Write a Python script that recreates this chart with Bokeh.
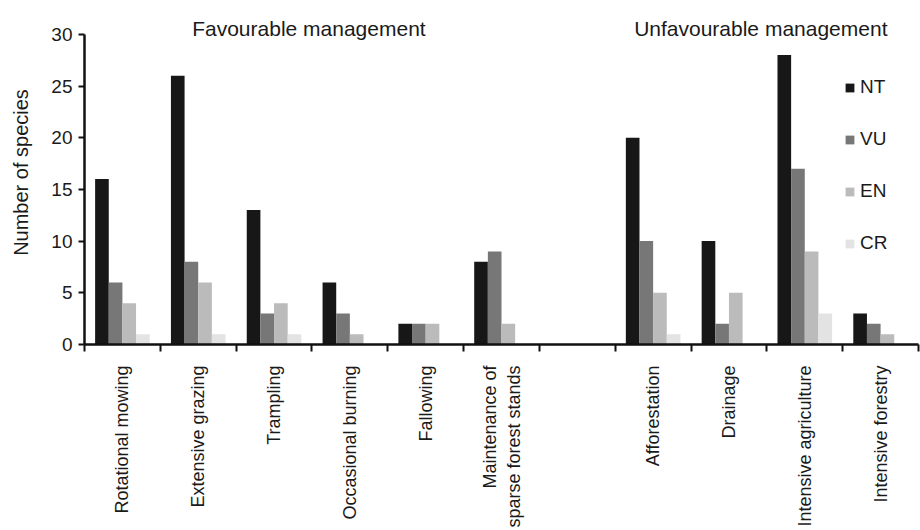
import math
from bokeh.plotting import figure
from bokeh.models import (ColumnDataSource, Range1d, FixedTicker, Label, Legend, LegendItem)
from bokeh.transform import dodge
from bokeh.embed import file_html
from bokeh.resources import INLINE

# ---- data ----
categories = ["Rotational mowing", "Extensive grazing", "Trampling", "Occasional burning",
              "Fallowing", "Maintenance of\nsparse forest stands", "",
              "Afforestation", "Drainage", "Intensive agriculture", "Intensive forestry"]
NT = [16, 26, 13, 6, 2, 8, 0, 20, 10, 28, 3]
VU = [6, 8, 3, 3, 2, 9, 0, 10, 2, 17, 2]
EN = [4, 6, 4, 1, 2, 2, 0, 5, 5, 9, 1]
CR = [1, 1, 1, 0, 0, 0, 0, 1, 0, 3, 0]
series = ["NT", "VU", "EN", "CR"]
colors = ["#171717", "#777777", "#bbbbbb", "#e3e3e3"]
y_ticks = [0, 5, 10, 15, 20, 25, 30]
group_titles = ["Favourable management", "Unfavourable management"]

FONT = "Liberation Sans"
TXT = "#1a1a1a"

idx = list(range(len(categories)))
src = ColumnDataSource(dict(x=idx, NT=NT, VU=VU, EN=EN, CR=CR))

p = figure(width=920, height=530, output_backend="svg", toolbar_location=None,
           x_range=Range1d(-0.5, len(categories) - 0.5), y_range=Range1d(0, 33.27),
           min_border_left=84, min_border_right=2, min_border_top=0, min_border_bottom=184)
p.outline_line_color = None
p.xgrid.visible = False
p.ygrid.visible = False
p.background_fill_color = "white"

bw = 0.18
offsets = [-0.27, -0.09, 0.09, 0.27]
renderers = []
for s, c, off in zip(series, colors, offsets):
    r = p.vbar(x=dodge("x", off, range=p.x_range), top=s, width=bw, source=src,
               fill_color=c, line_color=None)
    renderers.append(r)

# axes
xa = p.xaxis[0]
xa.ticker = FixedTicker(ticks=idx, minor_ticks=[i - 0.5 for i in range(len(categories) + 1)])
xa.major_label_overrides = {i: lab for i, lab in zip(idx, categories)}
xa.major_label_orientation = math.pi / 2
xa.major_tick_out = 0
xa.major_tick_in = 0
xa.minor_tick_out = 7
xa.minor_tick_in = 0
xa.minor_tick_line_width = 2
xa.minor_tick_line_color = "#111111"
xa.axis_line_width = 2.5
xa.axis_line_color = "#111111"
xa.major_label_standoff = 14
xa.major_label_text_font = FONT
xa.major_label_text_font_size = "18px"
xa.major_label_text_color = TXT

ya = p.yaxis[0]
ya.ticker = FixedTicker(ticks=y_ticks)
ya.bounds = (0, 30)
ya.major_tick_out = 6
ya.major_tick_in = 0
ya.minor_tick_out = 0
ya.minor_tick_in = 0
ya.major_tick_line_width = 2
ya.major_tick_line_color = "#111111"
ya.axis_line_width = 2.5
ya.axis_line_color = "#111111"
ya.major_label_standoff = 6
ya.major_label_text_font = FONT
ya.major_label_text_font_size = "19px"
ya.major_label_text_color = TXT
ya.axis_label = "Number of species"
ya.axis_label_text_font = FONT
ya.axis_label_text_font_size = "20px"
ya.axis_label_text_font_style = "normal"
ya.axis_label_text_color = TXT
ya.axis_label_standoff = 16

# group headers
for t, xc in zip(group_titles, [2.46, 8.42]):
    p.add_layout(Label(x=xc, y=30.58, text=t, text_align="center", text_baseline="alphabetic",
                       text_font=FONT, text_font_size="21px", text_color=TXT))

legend = Legend(items=[LegendItem(label=s, renderers=[r]) for s, r in zip(series, renderers)],
                location=(760, 90), orientation="vertical",
                glyph_width=11, glyph_height=11, label_height=11, spacing=30,
                label_standoff=5, padding=0, margin=0,
                label_text_font=FONT, label_text_font_size="19px", label_text_color=TXT,
                border_line_color=None, background_fill_alpha=0)
p.add_layout(legend)

open("out.html", "w").write(file_html(p, INLINE))
